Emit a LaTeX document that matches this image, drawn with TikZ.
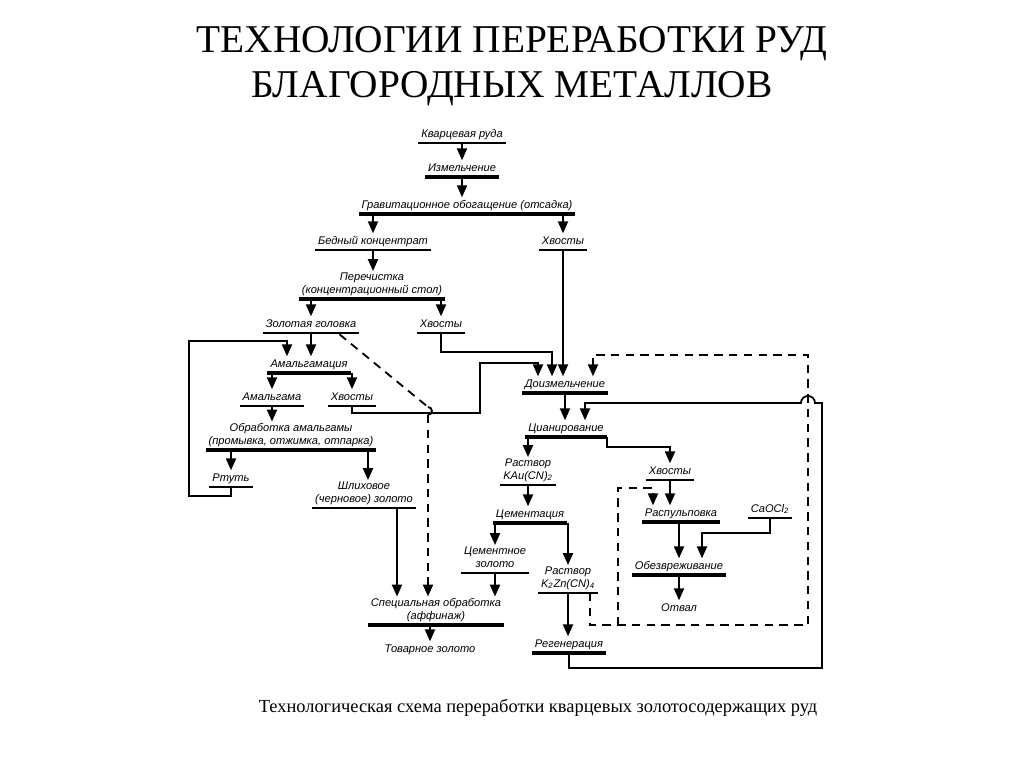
\documentclass[tikz,border=0pt]{standalone}
\usepackage{fontspec}
\setmainfont{Liberation Serif}
\newfontfamily\diagfont{Liberation Sans}
\usetikzlibrary{arrows.meta}

\begin{document}
\begin{tikzpicture}[x=0.025cm,y=-0.025cm,line width=1.3pt,
  lbl/.style={font=\diagfont\itshape\fontsize{7.9}{8.6}\selectfont,align=center,
    inner xsep=1.5pt,inner ysep=1pt,anchor=south,
    execute at begin node=\strut,execute at end node=\strut},
  arr/.style={-{Triangle[length=8.5pt,width=7.2pt]}},
  dashline/.style={dash pattern=on 6pt off 4.5pt}]
\useasboundingbox (0,0) rectangle (1024,767);

% title and caption
\node (title) at (512,66) [font=\fontsize{28}{32}\selectfont,align=center]
  {ТЕХНОЛОГИИ ПЕРЕРАБОТКИ РУД\\БЛАГОРОДНЫХ МЕТАЛЛОВ};
\node (caption) at (538,708) [font=\fontsize{13.1}{16}\selectfont]
  {Технологическая схема переработки кварцевых золотосодержащих руд};

% gravity part
\node[lbl] (ruda) at (462,143) {Кварцевая руда};
\node[lbl] (izm) at (462,177) {Измельчение};
\node[lbl] (grav) at (467,214) {Гравитационное обогащение (отсадка)};
\node[lbl] (bedn) at (373,250) {Бедный концентрат};
\node[lbl] (hv1) at (563,250) {Хвосты};
\node[lbl] (perech) at (372,299) {Перечистка\\(концентрационный стол)};
\node[lbl] (zg) at (311,333) {Золотая головка};
\node[lbl] (hv2) at (441,333) {Хвосты};

% amalgamation
\node[lbl] (amg) at (309,373) {Амальгамация};
\node[lbl] (amgm) at (272,406) {Амальгама};
\node[lbl] (hv3) at (352,406) {Хвосты};
\node[lbl] (obr) at (291,450) {Обработка амальгамы\\(промывка, отжимка, отпарка)};
\node[lbl] (rtut) at (231,487) {Ртуть};
\node[lbl] (shl) at (364,508) {Шлиховое\\(черновое) золото};
\node[lbl] (spec) at (436,625) {Специальная обработка\\(аффинаж)};
\node[lbl] (tov) at (430,658) {Товарное золото};

% cyanidation
\node[lbl] (doizm) at (565,393) {Доизмельчение};
\node[lbl] (cian) at (566,437) {Цианирование};
\node[lbl] (kau) at (528,485) {Раствор\\KAu(CN)\textsubscript{2}};
\node[lbl] (hv4) at (670,480) {Хвосты};
\node[lbl] (cem) at (530,523) {Цементация};
\node[lbl] (cemz) at (495,573) {Цементное\\золото};
\node[lbl] (kzn) at (568,593) {Раствор\\K\textsubscript{2}Zn(CN)\textsubscript{4}};
\node[lbl] (regen) at (569,653) {Регенерация};
\node[lbl] (rasp) at (681,522) {Распульповка};
\node[lbl] (caocl) at (770,518) {CaOCl\textsubscript{2}};
\node[lbl] (obezv) at (679,575) {Обезвреживание};
\node[lbl] (otval) at (679,617) {Отвал};

% bars under the operations, lines under the products
\foreach \n in {izm,grav,perech,amg,obr,spec,doizm,cian,cem,regen,rasp,obezv}
  \draw[line width=2.7pt] (\n.south west) -- (\n.south east);
\foreach \n in {ruda,bedn,hv1,zg,hv2,amgm,hv3,rtut,shl,kau,hv4,cemz,kzn,caocl}
  \draw[line width=1.1pt] (\n.south west) -- (\n.south east);

\draw[arr] (ruda.south) -- (izm.north);
\draw[arr] (izm.south) -- (izm.south |- grav.north);
\draw[arr] (grav.south -| bedn) -- (bedn.north);
\draw[arr] (grav.south -| hv1) -- (hv1.north);
\draw[arr] (bedn.south) -- (bedn.south |- perech.north);
\draw[arr] (perech.south -| zg) -- (zg.north);
\draw[arr] (perech.south -| hv2) -- (hv2.north);
\draw[arr] (zg.south) -- (zg.south |- amg.north);
\draw[arr] (rtut.south) |- (189,496) |- (287,341) -- (287,0 |- amg.north);
\draw[arr] (amg.south -| amgm) -- (amgm.north);
\draw[arr] (amg.south -| hv3) -- (hv3.north);
\draw[arr] (amgm.south) -- (amgm.south |- obr.north);
\draw[arr] (obr.south -| rtut) -- (rtut.north);
\draw[arr] (obr.south -| 368,0) -- (368,0 |- shl.north);
\draw[arr] (shl.south -| 397,0) -- (397,0 |- spec.north);
\draw[arr] (spec.south -| tov) -- (tov.north);

% gold head straight to refining (dashed)
\draw[dashline] ([xshift=-14pt,yshift=-1pt]zg.south east) -- (428,407);
\draw (428,407) arc[start angle=90,end angle=-90,radius=2.8pt];
\draw[dashline,arr] (428,415) -- (428,0 |- spec.north);

% tails to regrinding
\draw[arr] (hv2.south) |- (552,352) -- (552,0 |- doizm.north);
\draw[arr] (hv1.south) -- (hv1.south |- doizm.north);
\draw[arr] (hv3.south) |- (480,413) |- (538,363) -- (538,0 |- doizm.north);

\draw[arr] (doizm.south) -- (doizm.south |- cian.north);
\draw[dashline,arr] (kzn.south -| 590,0) |- (808,625) |- (593,355) -- (593,0 |- doizm.north);
\draw[dashline,arr] (618,625) |- (653,488) -- (653,0 |- rasp.north);
\draw[arr] (regen.south) |- (822,668) -- (822,403) -- (815,403)
  arc[start angle=0,end angle=180,radius=5pt] -- (585,403) -- (585,0 |- cian.north);

\draw[arr] (cian.south -| kau) -- (kau.north);
\draw[arr] (cian.south east) |- (670,447) -- (hv4.north);
\draw[arr] (hv4.south) -- (hv4.south |- rasp.north);
\draw[arr] (kau.south) -- (kau.south |- cem.north);
\draw[arr] (cem.south -| cemz) -- (cemz.north);
\draw[arr] (cem.south -| kzn) -- (kzn.north);
\draw[arr] (cemz.south) -- (cemz.south |- spec.north);
\draw[arr] (kzn.south) -- (kzn.south |- regen.north);
\draw[arr] (rasp.south -| obezv) -- (obezv.north);
\draw[arr] (caocl.south) |- (702,533) -- (702,0 |- obezv.north);
\draw[arr] (obezv.south) -- (otval.north);
\end{tikzpicture}
\end{document}
